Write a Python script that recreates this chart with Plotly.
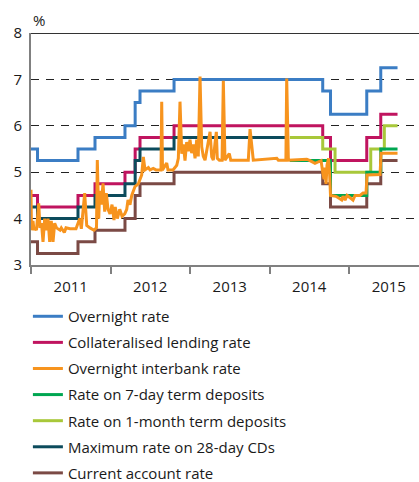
import plotly.graph_objects as go

# ---------------- data (time in decimal years) ----------------
policy_dates = [2011.0, 2011.082, 2011.591, 2011.805, 2012.182, 2012.31, 2012.371,
                2012.799, 2014.669, 2014.767, 2015.223, 2015.399, 2015.61]
overnight_rate = [5.5, 5.25, 5.5, 5.75, 6.0, 6.5, 6.75, 7.0, 6.75, 6.25, 6.75, 7.25, 7.25]
collateral_rate = [4.5, 4.25, 4.5, 4.75, 5.0, 5.5, 5.75, 6.0, 5.75, 5.25, 5.75, 6.25, 6.25]
current_account_rate = [3.5, 3.25, 3.5, 3.75, 4.0, 4.5, 4.75, 5.0, 4.75, 4.25, 4.75, 5.25, 5.25]

cd_dates = [2011.0, 2011.082, 2011.591, 2011.805, 2012.182, 2012.31, 2012.371, 2012.799, 2014.225]
cd_max_rate = [4.25, 4.0, 4.25, 4.5, 4.75, 5.25, 5.5, 5.75, 5.75]

month_dep_dates = [2014.255, 2014.669, 2014.824, 2015.273, 2015.444, 2015.61]
month_dep_rate = [5.75, 5.5, 5.0, 5.5, 6.0, 6.0]

week_dep_dates = [2014.255, 2014.767, 2015.223, 2015.399, 2015.61]
week_dep_rate = [5.25, 4.5, 5.0, 5.5, 5.5]

interbank_dates = [
    2011.000, 2011.006, 2011.025, 2011.038, 2011.050, 2011.069, 2011.097, 2011.113,
    2011.132, 2011.151, 2011.172, 2011.192, 2011.214, 2011.235, 2011.255, 2011.277,
    2011.298, 2011.321, 2011.365, 2011.381, 2011.419, 2011.440, 2011.491, 2011.566,
    2011.613, 2011.633, 2011.675, 2011.701, 2011.742, 2011.792, 2011.824, 2011.834,
    2011.852, 2011.864, 2011.884, 2011.906, 2011.927, 2011.947, 2011.969, 2011.994,
    2012.019, 2012.044, 2012.060, 2012.086, 2012.116, 2012.145, 2012.179, 2012.204,
    2012.220, 2012.245, 2012.267, 2012.308, 2012.350, 2012.392, 2012.413, 2012.434,
    2012.476, 2012.497, 2012.538, 2012.572, 2012.635, 2012.644, 2012.654, 2012.707,
    2012.723, 2012.786, 2012.811, 2012.833, 2012.853, 2012.874, 2012.896, 2012.916,
    2012.937, 2012.958, 2012.979, 2013.000, 2013.021, 2013.042, 2013.063, 2013.084,
    2013.104, 2013.126, 2013.147, 2013.167, 2013.189, 2013.210, 2013.230, 2013.252,
    2013.273, 2013.293, 2013.314, 2013.331, 2013.343, 2013.369, 2013.403, 2013.419,
    2013.440, 2013.494, 2013.512, 2013.733, 2013.755, 2013.776, 2013.796, 2014.091,
    2014.111, 2014.206, 2014.216, 2014.237, 2014.468, 2014.509, 2014.572, 2014.610,
    2014.648, 2014.669, 2014.686, 2014.698, 2014.711, 2014.723, 2014.742, 2014.755,
    2014.767, 2014.836, 2014.908, 2014.925, 2014.950, 2014.975, 2015.050, 2015.075,
    2015.138, 2015.176, 2015.214, 2015.226, 2015.390, 2015.403, 2015.610]
interbank_rate = [
    4.62, 3.75, 3.95, 3.75, 3.80, 3.75, 4.33, 3.80,
    3.90, 3.50, 4.00, 3.75, 4.00, 3.50, 3.95, 3.50,
    3.90, 3.80, 3.75, 3.80, 3.70, 3.80, 3.78, 3.78,
    4.00, 3.78, 4.55, 3.85, 3.80, 3.75, 3.80, 5.26,
    4.00, 4.60, 4.30, 4.76, 4.15, 4.55, 4.20, 4.10,
    4.30, 3.97, 4.25, 4.00, 4.20, 4.05, 4.10, 4.20,
    4.40, 4.30, 4.50, 4.69, 4.75, 4.94, 5.33, 5.05,
    5.10, 5.05, 5.08, 5.05, 5.05, 6.52, 5.05, 5.20,
    5.05, 5.05, 5.10, 5.15, 5.30, 6.52, 5.40, 5.60,
    5.25, 5.65, 5.45, 5.70, 5.41, 5.60, 5.30, 5.70,
    5.34, 7.06, 5.55, 5.34, 5.26, 5.48, 5.59, 5.87,
    5.33, 5.26, 5.62, 5.87, 5.30, 5.26, 5.26, 6.97,
    5.26, 5.40, 5.26, 5.26, 5.93, 5.50, 5.26, 5.30,
    5.26, 5.26, 7.02, 5.26, 5.28, 5.25, 5.19, 5.22,
    5.25, 5.00, 4.85, 5.10, 4.75, 5.15, 5.30, 5.00,
    4.50, 4.48, 4.40, 4.48, 4.40, 4.50, 4.40, 4.50,
    4.50, 4.55, 4.55, 4.94, 4.95, 5.41, 5.41]

year_labels = ["2011", "2012", "2013", "2014", "2015"]
year_starts = [2011, 2012, 2013, 2014, 2015]
y_ticks = [3, 4, 5, 6, 7, 8]

# ---------------- styling ----------------
FONT = "Open Sans"
C_BLUE = "#3b7dc4"
C_MAG = "#c0145f"
C_ORA = "#f7941e"
C_GRN = "#00a651"
C_LIME = "#a8c83a"
C_TEAL = "#0c4b5c"
C_BRN = "#7b4a45"

series = [
    # (name, x, y, color, shape, legend rank)  -- listed in drawing order
    ("Overnight rate", policy_dates, overnight_rate, C_BLUE, "hv", 1),
    ("Collateralised lending rate", policy_dates, collateral_rate, C_MAG, "hv", 2),
    ("Maximum rate on 28-day CDs", cd_dates, cd_max_rate, C_TEAL, "hv", 6),
    ("Current account rate", policy_dates, current_account_rate, C_BRN, "hv", 7),
    ("Rate on 1-month term deposits", month_dep_dates, month_dep_rate, C_LIME, "hv", 5),
    ("Rate on 7-day term deposits", week_dep_dates, week_dep_rate, C_GRN, "hv", 4),
    ("Overnight interbank rate", interbank_dates, interbank_rate, C_ORA, "linear", 3),
]

fig = go.Figure()
for name, xs, ys, col, shape, rank in series:
    fig.add_trace(go.Scatter(
        x=xs, y=ys, name=name, mode="lines",
        line=dict(color=col, width=3, shape=shape),
        legendgroup=name, legendrank=rank,
        hoverinfo="skip",
    ))

fig.update_layout(
    width=419, height=482,
    margin=dict(l=31, r=0, t=33, b=217, autoexpand=False),
    paper_bgcolor="white", plot_bgcolor="white",
    font=dict(family=FONT, size=15, color="#1a1a1a"),
    showlegend=True,
    legend=dict(
        orientation="v", x=-0.008, xanchor="left", y=-0.151, yanchor="top",
        font=dict(family=FONT, size=15, color="#1a1a1a"),
        tracegroupgap=3.6, traceorder="grouped",
        bgcolor="rgba(0,0,0,0)", borderwidth=0,
    ),
    xaxis=dict(
        range=[2011.0, 2015.88], automargin=False,
        showline=True, linecolor="#808080", linewidth=2,
        tickmode="array", tickvals=[y + 0.5 for y in year_starts], ticktext=year_labels,
        ticks="outside", ticklen=7, tickcolor="rgba(0,0,0,0)",
        tickfont=dict(family=FONT, size=15, color="#1a1a1a"),
        minor=dict(tickmode="array", tickvals=year_starts, ticks="outside",
                   ticklen=7, tickwidth=1.5, tickcolor="#808080", showgrid=False),
        showgrid=False, zeroline=False, fixedrange=True,
    ),
    yaxis=dict(
        range=[3, 8], automargin=False,
        tickmode="array", tickvals=y_ticks,
        showline=True, linecolor="#808080", linewidth=2,
        ticks="outside", ticklen=4, tickcolor="rgba(0,0,0,0)",
        tickfont=dict(family=FONT, size=15, color="#1a1a1a"),
        showgrid=True, gridcolor="#222222", gridwidth=1, griddash="8px,7px",
        zeroline=False, fixedrange=True,
    ),
    shapes=[dict(type="line", xref="paper", yref="y", x0=0, x1=1, y0=8, y1=8,
                 line=dict(color="#333333", width=2), layer="above")],
    annotations=[dict(text="%", xref="paper", yref="paper", x=0, y=1.056,
                      xanchor="left", yanchor="middle", showarrow=False,
                      font=dict(family=FONT, size=15, color="#1a1a1a"))],
)

# remove the browser's default 8px page margin so the 419x482 figure fills the window
fig.write_html("out.html",
               config={"displayModeBar": False},
               post_script="document.body.style.margin='0';document.body.style.overflow='hidden';")
